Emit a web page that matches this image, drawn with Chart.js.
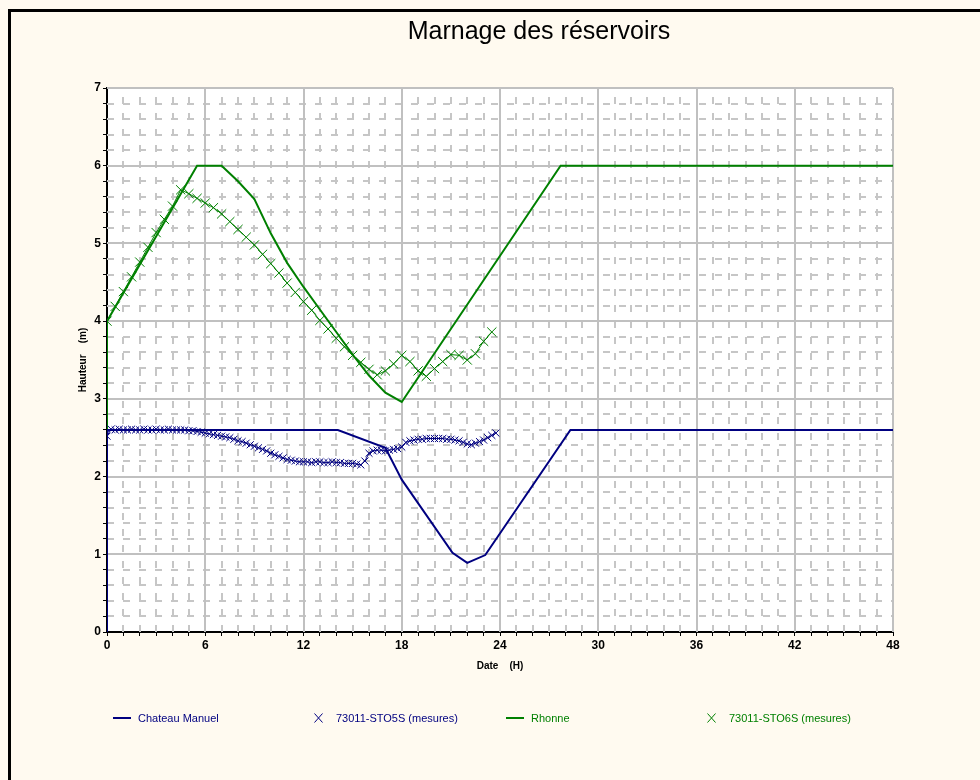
<!DOCTYPE html>
<html>
<head>
<meta charset="utf-8">
<title>Marnage des réservoirs</title>
<script src="https://cdn.jsdelivr.net/npm/chart.js@4.4.1/dist/chart.umd.min.js"></script>
<style>
  body { margin: 0; background: #fffaf0; }
  #wrap { position: relative; width: 980px; height: 780px; overflow: hidden; }
  #frame { position: absolute; left: 8px; top: 9px; width: 1000px; height: 800px;
           border-left: 3px solid #000; border-top: 3px solid #000; }
  #chart { position: absolute; left: 0; top: 0; }
  #legend { position: absolute; left: 0; top: 710px; width: 980px; height: 16px;
            font: 11px Arial, "Liberation Sans", sans-serif; }
  .item { position: absolute; top: 0; height: 16px; display: flex; align-items: center; white-space: nowrap; }
  .swatch { display: inline-block; width: 18px; height: 2px; margin-right: 7px; }
  .cross { display: inline-block; margin-right: 13px; }
</style>
</head>
<body>
<div id="wrap">
  <div id="frame"></div>
  <canvas id="chart" width="980" height="780"></canvas>
  <div id="legend"></div>
</div>
<script>
const chartTitle = 'Marnage des réservoirs';
const seriesNames = ['Chateau Manuel', '73011-STO5S (mesures)', 'Rhonne', '73011-STO6S (mesures)'];
const navy = '#000080';
const green = '#008000';
const fontFamily = 'Arial, "Liberation Sans", sans-serif';

// simulated levels, hours / metres
const chateauT = [0, 0, 14.1, 17, 18, 21.1, 22, 23.1, 28.3, 48];
const chateauH = [0, 2.6, 2.6, 2.37, 1.96, 1.02, 0.89, 0.99, 2.6, 2.6];

const rhonneT = [0, 0, 5.5, 7, 8, 9, 10, 11, 12, 13, 14, 15, 16, 17, 18, 27.7, 48];
const rhonneH = [0, 4, 6, 6, 5.8, 5.57, 5.13, 4.75, 4.44, 4.15, 3.86, 3.57, 3.3, 3.08, 2.96, 6, 6];

// measurements: STO5S every 15 min, STO6S every 30 min, from t = 0
const sto5sStep = 0.25;
const sto5sH = [
  2.52, 2.61, 2.60, 2.61, 2.60, 2.60, 2.61, 2.60, 2.60, 2.61, 2.60, 2.60,
  2.61, 2.60, 2.60, 2.61, 2.60, 2.60, 2.60, 2.60, 2.59, 2.59, 2.58, 2.57,
  2.56, 2.55, 2.54, 2.53, 2.52, 2.51, 2.50, 2.48, 2.46, 2.45, 2.43, 2.41,
  2.39, 2.37, 2.35, 2.33, 2.30, 2.28, 2.26, 2.24, 2.22, 2.21, 2.20, 2.19,
  2.19, 2.19, 2.18, 2.19, 2.19, 2.18, 2.18, 2.19, 2.18, 2.18, 2.17, 2.17,
  2.17, 2.16, 2.15, 2.20, 2.30, 2.33, 2.34, 2.34, 2.33, 2.34, 2.35, 2.36,
  2.38, 2.44, 2.46, 2.47, 2.48, 2.48, 2.49, 2.49, 2.49, 2.49, 2.49, 2.48,
  2.48, 2.47, 2.46, 2.44, 2.42, 2.41, 2.43, 2.45, 2.47, 2.50, 2.53, 2.56
];
const sto6sStep = 0.5;
const sto6sH = [
  4.00, 4.19, 4.38, 4.57, 4.76, 4.95, 5.14, 5.31, 5.48, 5.69, 5.64, 5.58,
  5.52, 5.46, 5.38, 5.28, 5.18, 5.08, 4.98, 4.86, 4.74, 4.62, 4.49, 4.37,
  4.25, 4.14, 4.01, 3.90, 3.78, 3.67, 3.56, 3.47, 3.38, 3.31, 3.36, 3.45,
  3.56, 3.48, 3.36, 3.29, 3.39, 3.48, 3.57, 3.56, 3.50, 3.58, 3.74, 3.86
];

const xMax = 48, xMajor = 6, xMinor = 1;
const yMax = 7, yMajor = 1, yMinor = 0.2;

const pairs = (ts, hs) => ts.map((t, i) => ({x: t, y: hs[i]}));
const stepped = (step, hs) => hs.map((h, i) => ({x: i * step, y: h}));
const isMultiple = (v, m) => Math.abs(v / m - Math.round(v / m)) < 1e-6;

const gridPlugin = {
  id: 'marnageGrid',
  beforeDraw(chart) {
    const {ctx, chartArea: a} = chart;
    ctx.save();
    ctx.fillStyle = '#ffffff';
    ctx.fillRect(a.left, a.top, a.right - a.left, a.bottom - a.top);
    ctx.restore();
  },
  beforeDatasetsDraw(chart) {
    const {ctx, chartArea: a, scales: {x, y}} = chart;
    const seg = (x1, y1, x2, y2) => { ctx.beginPath(); ctx.moveTo(x1, y1); ctx.lineTo(x2, y2); ctx.stroke(); };
    ctx.save();
    ctx.strokeStyle = '#c6c6c6';
    ctx.lineWidth = 2;
    // minor dashed lines
    ctx.setLineDash([7, 9]);
    for (let v = xMinor; v < xMax; v += xMinor) {
      if (isMultiple(v, xMajor)) continue;
      const px = Math.round(x.getPixelForValue(v));
      seg(px, a.bottom, px, a.top);
    }
    for (let k = 1; k * yMinor < yMax - 1e-6; k++) {
      const v = k * yMinor;
      if (isMultiple(v, yMajor)) continue;
      const py = Math.round(y.getPixelForValue(v));
      seg(a.left, py, a.right, py);
    }
    // major solid lines
    ctx.setLineDash([]);
    ctx.strokeStyle = '#c0c0c0';
    for (let v = xMajor; v <= xMax; v += xMajor) {
      const px = Math.round(x.getPixelForValue(v));
      seg(px, a.bottom, px, a.top);
    }
    for (let v = yMajor; v <= yMax; v += yMajor) {
      const py = Math.round(y.getPixelForValue(v));
      seg(a.left, py, a.right, py);
    }
    ctx.restore();
  },
  afterDraw(chart) {
    const ctx = chart.ctx;
    ctx.save();
    ctx.fillStyle = '#000';
    ctx.font = '25px ' + fontFamily;
    ctx.textAlign = 'center';
    ctx.textBaseline = 'middle';
    ctx.fillText(chartTitle, 539, 32);
    ctx.restore();
  }
};

const chart = new Chart(document.getElementById('chart'), {
  type: 'line',
  data: {
    datasets: [
      {
        label: seriesNames[0],
        data: pairs(chateauT, chateauH),
        borderColor: navy,
        borderWidth: 2,
        pointRadius: 0
      },
      {
        label: seriesNames[1],
        data: stepped(sto5sStep, sto5sH),
        borderColor: navy,
        borderWidth: 1,
        pointStyle: 'crossRot',
        pointRadius: 5,
        pointBorderColor: navy,
        pointBorderWidth: 1
      },
      {
        label: seriesNames[2],
        data: pairs(rhonneT, rhonneH),
        borderColor: green,
        borderWidth: 2,
        pointRadius: 0
      },
      {
        label: seriesNames[3],
        data: stepped(sto6sStep, sto6sH),
        borderColor: green,
        borderWidth: 1,
        pointStyle: 'crossRot',
        pointRadius: 6.5,
        pointBorderColor: green,
        pointBorderWidth: 1
      }
    ]
  },
  options: {
    responsive: false,
    animation: false,
    layout: { padding: { left: 70, top: 88, right: 87, bottom: 105 } },
    plugins: {
      legend: { display: false },
      tooltip: { enabled: false },
      title: { display: false }
    },
    scales: {
      x: {
        type: 'linear',
        min: 0,
        max: xMax,
        ticks: {
          stepSize: xMinor,
          autoSkip: false,
          maxRotation: 0,
          padding: 2,
          color: '#000',
          font: { family: fontFamily, size: 12, weight: 'bold' },
          callback: v => isMultiple(v, xMajor) ? v : ''
        },
        grid: { drawOnChartArea: false, tickLength: 4, tickColor: '#000', tickWidth: 1 },
        border: { color: '#000', width: 2 },
        title: {
          display: true,
          text: 'Date    (H)',
          color: '#000',
          font: { family: fontFamily, size: 10, weight: 'bold' },
          padding: { top: 0, bottom: 3 }
        },
        afterFit: s => { s.height = 43; }
      },
      y: {
        type: 'linear',
        min: 0,
        max: yMax,
        ticks: {
          stepSize: yMinor,
          autoSkip: false,
          padding: 2,
          color: '#000',
          font: { family: fontFamily, size: 12, weight: 'bold' },
          callback: v => isMultiple(v, yMajor) ? v : ''
        },
        grid: { drawOnChartArea: false, tickLength: 4, tickColor: '#000', tickWidth: 1 },
        border: { color: '#000', width: 2 },
        title: {
          display: true,
          text: 'Hauteur    (m)',
          color: '#000',
          font: { family: fontFamily, size: 10, weight: 'bold' },
          padding: { top: 7, bottom: 0 }
        },
        afterFit: s => { s.width = 37; }
      }
    }
  },
  plugins: [gridPlugin]
});

// legend in the style of the original: line or X marker, coloured text
const legendLeft = [113, 314, 506, 707];
const legendBox = document.getElementById('legend');
chart.data.datasets.forEach((ds, i) => {
  const item = document.createElement('div');
  item.className = 'item';
  item.style.left = legendLeft[i] + 'px';
  item.style.color = ds.borderColor;
  if (ds.pointStyle === 'crossRot') {
    item.innerHTML = '<svg class="cross" width="9" height="10"><path d="M0.5 0.5 L8.5 9.5 M8.5 0.5 L0.5 9.5" stroke="' +
      ds.borderColor + '" stroke-width="1" fill="none"/></svg>';
  } else {
    item.innerHTML = '<span class="swatch" style="background:' + ds.borderColor + '"></span>';
  }
  item.appendChild(document.createTextNode(ds.label));
  legendBox.appendChild(item);
});
</script>
</body>
</html>
